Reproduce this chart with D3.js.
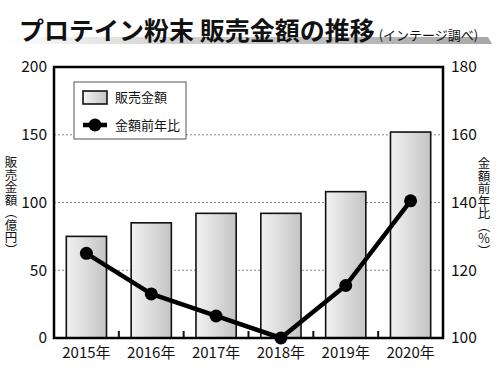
<!DOCTYPE html>
<html>
<head>
<meta charset="utf-8">
<script src="https://cdn.jsdelivr.net/npm/d3@7"></script>
<style>
  body { margin: 0; background: #fff; }
  svg { font-family: "Noto Sans CJK JP", "Noto Sans", sans-serif; }
</style>
</head>
<body>
<svg id="chart" width="500" height="375"></svg>
<script>
// data
var years = ["2015年", "2016年", "2017年", "2018年", "2019年", "2020年"];
var sales = [75, 85, 92, 92, 108, 152];          // 億円
var yoy = [125, 113, 106.5, 100, 115.5, 140.5];  // %
var leftTicks = [0, 50, 100, 150, 200];
var rightTicks = [100, 120, 140, 160, 180];

var dims = { width: 500, height: 375, margin: { top: 67, right: 57, bottom: 37, left: 54 } };
dims.boundedWidth = dims.width - dims.margin.left - dims.margin.right;
dims.boundedHeight = dims.height - dims.margin.top - dims.margin.bottom;

var svg = d3.select("#chart");
var defs = svg.append("defs");

var barGrad = defs.append("linearGradient").attr("id", "barGrad");
barGrad.append("stop").attr("offset", "0%").attr("stop-color", "#f2f2f2");
barGrad.append("stop").attr("offset", "100%").attr("stop-color", "#c4c4c4");

var titleGrad = defs.append("linearGradient").attr("id", "titleGrad");
titleGrad.append("stop").attr("offset", "0%").attr("stop-color", "#ffffff");
titleGrad.append("stop").attr("offset", "35%").attr("stop-color", "#d0d0d0");
titleGrad.append("stop").attr("offset", "100%").attr("stop-color", "#a8a8a8");

// title with the grey band under it
svg.append("path")
  .attr("d", "M8,37 L488,37 L492,44 L8,44 Z")
  .attr("fill", "url(#titleGrad)");

var title = svg.append("text")
  .attr("x", 19)
  .attr("y", 40)
  .attr("font-weight", "bold")
  .attr("font-size", 25)
  .attr("fill", "#111");
title.append("tspan").text("プロテイン粉末 販売金額の推移");
title.append("tspan").attr("font-size", 13).attr("font-weight", "normal").attr("dx", 4).text("(インテージ調べ)");

// scales
var xScale = d3.scaleBand()
  .domain(years)
  .range([0, dims.boundedWidth])
  .paddingInner(0.38)
  .paddingOuter(0.19);

var yLeft = d3.scaleLinear().domain([0, 200]).range([dims.boundedHeight, 0]);
var yRight = d3.scaleLinear().domain([100, 180]).range([dims.boundedHeight, 0]);

var bounds = svg.append("g")
  .attr("transform", "translate(" + dims.margin.left + "," + dims.margin.top + ")");

// dotted grid lines
bounds.selectAll(".grid")
  .data([50, 100, 150])
  .enter()
  .append("line")
  .attr("x1", 0)
  .attr("x2", dims.boundedWidth)
  .attr("y1", function (d) { return yLeft(d); })
  .attr("y2", function (d) { return yLeft(d); })
  .attr("stroke", "#8a8a8a")
  .attr("stroke-width", 1)
  .attr("stroke-dasharray", "2,2");

// bars
bounds.selectAll(".bar")
  .data(sales)
  .enter()
  .append("rect")
  .attr("x", function (d, i) { return xScale(years[i]); })
  .attr("width", xScale.bandwidth())
  .attr("y", function (d) { return yLeft(d); })
  .attr("height", function (d) { return dims.boundedHeight - yLeft(d); })
  .attr("fill", "url(#barGrad)")
  .attr("stroke", "#111")
  .attr("stroke-width", 1.6);

// small ticks between categories on the bottom
bounds.selectAll(".xtick")
  .data(d3.range(1, years.length))
  .enter()
  .append("line")
  .attr("x1", function (d) { return d * dims.boundedWidth / years.length; })
  .attr("x2", function (d) { return d * dims.boundedWidth / years.length; })
  .attr("y1", dims.boundedHeight)
  .attr("y2", dims.boundedHeight - 7)
  .attr("stroke", "#111")
  .attr("stroke-width", 2);

// line series
var line = d3.line()
  .x(function (d, i) { return xScale(years[i]) + xScale.bandwidth() / 2; })
  .y(function (d) { return yRight(d); });

bounds.append("path")
  .datum(yoy)
  .attr("d", line)
  .attr("fill", "none")
  .attr("stroke", "#000")
  .attr("stroke-width", 4.5)
  .attr("stroke-linejoin", "round");

bounds.selectAll(".dot")
  .data(yoy)
  .enter()
  .append("circle")
  .attr("cx", function (d, i) { return xScale(years[i]) + xScale.bandwidth() / 2; })
  .attr("cy", function (d) { return yRight(d); })
  .attr("r", 6.5)
  .attr("fill", "#000");

// frame
bounds.append("rect")
  .attr("width", dims.boundedWidth)
  .attr("height", dims.boundedHeight)
  .attr("fill", "none")
  .attr("stroke", "#000")
  .attr("stroke-width", 2.5);

// axes
var xAxis = d3.axisBottom(xScale).tickSize(0).tickPadding(9);
bounds.append("g")
  .attr("transform", "translate(0," + dims.boundedHeight + ")")
  .call(xAxis)
  .call(function (g) { g.select(".domain").remove(); })
  .selectAll("text")
  .attr("font-size", 15)
  .attr("font-family", "\"Noto Sans CJK JP\", sans-serif")
  .attr("fill", "#111");

var leftAxis = d3.axisLeft(yLeft).tickValues(leftTicks).tickSize(0).tickPadding(7);
bounds.append("g")
  .call(leftAxis)
  .call(function (g) { g.select(".domain").remove(); })
  .selectAll("text")
  .attr("font-size", 15.5)
  .attr("font-family", "\"Noto Sans CJK JP\", sans-serif")
  .attr("fill", "#111");

var rightAxis = d3.axisRight(yRight).tickValues(rightTicks).tickSize(0).tickPadding(8);
bounds.append("g")
  .attr("transform", "translate(" + dims.boundedWidth + ",0)")
  .call(rightAxis)
  .call(function (g) { g.select(".domain").remove(); })
  .selectAll("text")
  .attr("font-size", 15.5)
  .attr("font-family", "\"Noto Sans CJK JP\", sans-serif")
  .attr("fill", "#111");

// vertical axis titles
svg.append("text")
  .attr("x", 11)
  .attr("y", 156)
  .attr("font-size", 12.5)
  .attr("fill", "#111")
  .style("writing-mode", "vertical-rl")
  .style("text-orientation", "mixed")
  .text("販売金額（億円）");

svg.append("text")
  .attr("x", 484)
  .attr("y", 157)
  .attr("font-size", 12.5)
  .attr("fill", "#111")
  .style("writing-mode", "vertical-rl")
  .style("text-orientation", "mixed")
  .text("金額前年比（％）");

// legend
var legend = svg.append("g").attr("transform", "translate(74,82)");
legend.append("rect")
  .attr("width", 112)
  .attr("height", 57)
  .attr("fill", "#fff")
  .attr("stroke", "#555")
  .attr("stroke-width", 1);
legend.append("rect")
  .attr("x", 9)
  .attr("y", 9)
  .attr("width", 24)
  .attr("height", 13)
  .attr("fill", "url(#barGrad)")
  .attr("stroke", "#111")
  .attr("stroke-width", 1.6);
legend.append("text")
  .attr("x", 41)
  .attr("y", 20)
  .attr("font-size", 13)
  .attr("fill", "#111")
  .text("販売金額");
legend.append("line")
  .attr("x1", 9)
  .attr("x2", 33)
  .attr("y1", 43)
  .attr("y2", 43)
  .attr("stroke", "#000")
  .attr("stroke-width", 4.5);
legend.append("circle")
  .attr("cx", 21)
  .attr("cy", 43)
  .attr("r", 6.5)
  .attr("fill", "#000");
legend.append("text")
  .attr("x", 41)
  .attr("y", 48)
  .attr("font-size", 13)
  .attr("fill", "#111")
  .text("金額前年比");
</script>
</body>
</html>
